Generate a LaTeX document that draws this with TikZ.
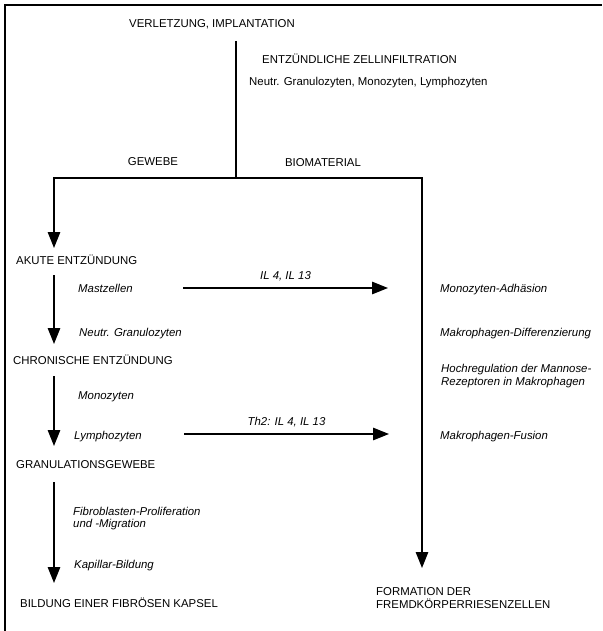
\documentclass[tikz,border=0pt]{standalone}
\usepackage{fontspec}
\setmainfont{Liberation Sans}
\usetikzlibrary{arrows.meta}
\tikzset{
  stage/.style={anchor=base west, inner sep=0pt, font=\fontsize{11.4}{13}\selectfont},
  cell/.style={anchor=base west, inner sep=0pt, font=\fontsize{11.4}{13}\selectfont\itshape},
  twoline/.style={anchor=north west, inner sep=0pt, align=left, font=\fontsize{11.4}{13}\selectfont},
  arrow/.style={-{Triangle[length=16pt,width=12.5pt]}, line width=1.2pt},
  plain/.style={line width=1.2pt},
  frame/.style={line width=1.6pt}
}

\begin{document}
\begin{tikzpicture}[x=1pt, y=-1pt]
  \useasboundingbox (0,0) rectangle (602,631);
  % frame (only top and left edge visible)
  \coordinate (fb) at (5,631);
  \coordinate (fc) at (5,5);
  \coordinate (fr) at (602,5);
  \draw[frame] (fb) -- (fc) -- (fr);

  % top part
  \node[stage, anchor=base] (verl) at (212,28) {VERLETZUNG, IMPLANTATION};
  \node[stage] (infil) at (262,64) {ENTZÜNDLICHE ZELLINFILTRATION};
  \node[stage] (infcells) at (249,86) {Neutr. Granulozyten, Monozyten, Lymphozyten};
  \node[stage, anchor=base] (gewebe) at (153,166) {GEWEBE};
  \node[stage, anchor=base] (biomat) at (323,167) {BIOMATERIAL};

  \coordinate (stem) at (236,41);
  \coordinate (split) at (236,178);
  \coordinate (lcorner) at (54,178);
  \coordinate (rcorner) at (422,178);
  \coordinate (ltip) at (54,248);
  \coordinate (rtip) at (422,568);
  \draw[plain] (stem) -- (split);
  \draw[arrow] (split) -- (lcorner) -- (ltip);
  \draw[arrow] (split) -- (rcorner) -- (rtip);

  % tissue side
  \node[stage] (akut) at (16,264) {AKUTE ENTZÜNDUNG};
  \node[cell] (mast) at (78,292) {Mastzellen};
  \node[cell] (neutr) at (79,336) {Neutr. Granulozyten};
  \node[stage] (chron) at (13,364) {CHRONISCHE ENTZÜNDUNG};
  \node[cell] (mono) at (78,399) {Monozyten};
  \node[cell] (lympho) at (74,439) {Lymphozyten};
  \node[stage] (granu) at (16,468) {GRANULATIONSGEWEBE};
  \node[twoline, font=\fontsize{11.4}{12.5}\selectfont\itshape] (fibro) at (73,507) {Fibroblasten-Proliferation\\und -Migration};
  \node[cell] (kapil) at (74,568) {Kapillar-Bildung};
  \node[stage] (kapsel) at (20,607) {BILDUNG EINER FIBRÖSEN KAPSEL};

  \coordinate (a1s) at (54,275);
  \coordinate (a1e) at (54,344);
  \coordinate (a2s) at (54,376);
  \coordinate (a2e) at (54,446);
  \coordinate (a3s) at (54,482);
  \coordinate (a3e) at (54,583);
  \draw[arrow] (a1s) -- (a1e);
  \draw[arrow] (a2s) -- (a2e);
  \draw[arrow] (a3s) -- (a3e);

  % cytokine arrows
  \coordinate (il1s) at (183,288);
  \coordinate (il1e) at (388,288);
  \coordinate (il2s) at (184,434);
  \coordinate (il2e) at (389,434);
  \draw[arrow] (il1s) -- node[cell, anchor=base, above=6pt] (il1) {IL 4, IL 13} (il1e);
  \draw[arrow] (il2s) -- node[cell, anchor=base, above=6pt] (il2) {Th2: IL 4, IL 13} (il2e);

  % biomaterial side
  \node[cell] (adh) at (440,292) {Monozyten-Adhäsion};
  \node[cell] (diff) at (440,336) {Makrophagen-Differenzierung};
  \node[twoline, font=\fontsize{11.4}{13.5}\selectfont\itshape] (mannose) at (441,364) {Hochregulation der Mannose-\\Rezeptoren in Makrophagen};
  \node[cell] (fusion) at (440,439) {Makrophagen-Fusion};
  \node[twoline] (fbgc) at (376,587) {FORMATION DER\\FREMDKÖRPERRIESENZELLEN};
\end{tikzpicture}
\end{document}
